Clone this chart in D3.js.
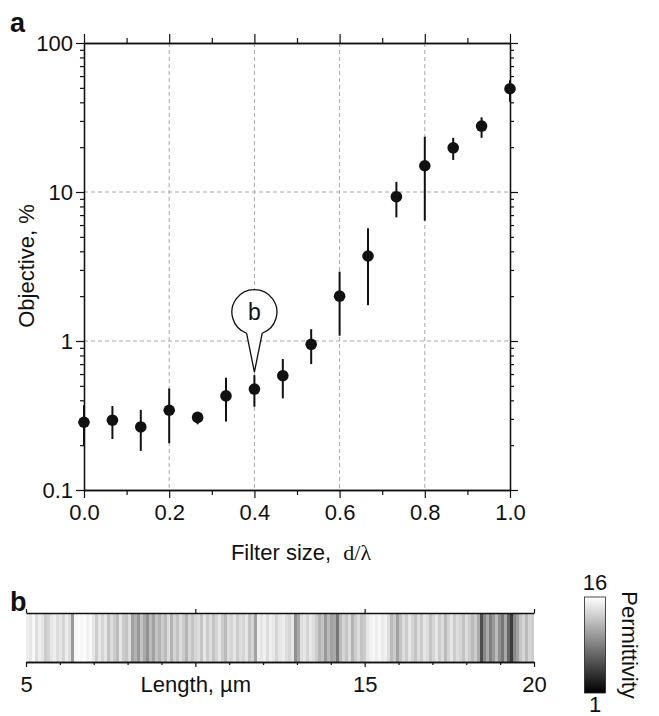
<!DOCTYPE html>
<html>
<head>
<meta charset="utf-8">
<script src="https://cdn.jsdelivr.net/npm/d3@7"></script>
<style>
  body { margin: 0; background: #fff; }
  svg { display: block; }
  text { font-family: "Liberation Sans", Arial, Helvetica, sans-serif; fill: #111; }
</style>
</head>
<body>
<svg id="chart" width="659" height="716"></svg>
<script>
// ---------- data ----------
const filterSize = [0.0, 0.0667, 0.1333, 0.2, 0.2667, 0.3333, 0.4, 0.4667, 0.5333, 0.6, 0.6667, 0.7333, 0.8, 0.8667, 0.9333, 1.0];
const objective  = [0.285, 0.294, 0.265, 0.343, 0.307, 0.428, 0.476, 0.585, 0.95, 2.0, 3.72, 9.3, 15.0, 19.8, 27.7, 49.3];
const errLow     = [0.20, 0.22, 0.183, 0.206, 0.276, 0.288, 0.362, 0.412, 0.70, 1.085, 1.74, 6.76, 6.42, 16.4, 23.1, 40.4];
const errHigh    = [0.37, 0.366, 0.345, 0.48, 0.33, 0.567, 0.59, 0.757, 1.2, 2.92, 5.71, 11.7, 23.5, 23.1, 31.7, 56.3];
const xTicks     = [0.0, 0.2, 0.4, 0.6, 0.8, 1.0];
const xMinor     = [0.1, 0.3, 0.5, 0.7, 0.9];
const yTicks     = [0.1, 1, 10, 100];
const yTickLabels = ["0.1", "1", "10", "100"];
const xGrid      = [0.2, 0.4, 0.6, 0.8];
const yGrid      = [1, 10];
const calloutAt  = 0.4;
const calloutLabel = "b";

// permittivity profile (5 to 20 µm), equal-width layers
const permittivity = [
  15, 14.5, 15.5, 14, 15, 14.5,
  13, 13.5,
  14.5, 15, 14, 14.5, 13.5, 15, 14,
  10,
  15.5, 15.8, 15.5, 15.8, 15.2, 15.5,
  14.5, 13, 14.5,
  13.5, 14.5, 12.5, 14, 13, 12, 14.5, 13, 12.5, 14,
  10.5, 11.5, 10, 12.5, 11, 9.5, 12, 10.5, 12.5, 11.5,
  13, 12, 14, 11.5, 13.5, 12.5, 14, 13, 11.5, 13.5, 12.5,
  13.5, 14, 12.5, 14.5, 13, 14, 12.5, 13.5, 14.5, 13, 12, 14,
  13.5, 14.5, 13, 14, 13.5, 14.5, 12.5, 13.5,
  10.5,
  15, 14.5, 15.2, 14, 15, 14.5, 13.5, 14.5, 15, 14, 13.5, 14.5,
  9.5, 11,
  14, 14.5, 13.5, 14.5, 14, 13,
  11.5, 12.5, 10, 12, 10.5, 11, 8,
  12, 13.5, 12.5, 14, 11.5, 13, 14, 12.5, 13,
  14.5, 15.2, 15.5, 15, 15.5, 14.8, 15.2, 14,
  12, 13, 10.5, 12.5,
  14, 13, 14.5, 13.5, 12.5, 14, 13, 14.5, 14, 12.5, 13.5, 14.5, 13, 14, 12, 13.5, 14.5, 13, 14, 13.5, 12.5, 14, 13,
  12, 13, 11,
  5.5, 9, 11, 8.5, 10, 12, 9.5, 8, 11, 7, 4.5, 9, 10.5,
  12.5, 13.5, 12, 13.5, 13
];
const lengthRange = [5, 20];
const lengthTicks = [5, 10, 15, 20];
const lengthTickLabels = ["5", "Length, µm", "15", "20"];
const lengthMinor = [6, 7, 8, 9, 11, 12, 13, 14, 16, 17, 18, 19];
const permRange = [1, 16];

// ---------- drawing ----------
const FS = 22;
const svg = d3.select("#chart");

// Panel a
const x = d3.scaleLinear().domain([0, 1]).range([84, 510]);
const y = d3.scaleLog().domain([0.1, 100]).range([490, 43]);

const yMinor = [];
[0.1, 1, 10].forEach(d => { for (let k = 2; k <= 9; k++) yMinor.push(d * k); });

// gridlines
svg.append("g").selectAll("line").data(xGrid).join("line")
  .attr("x1", d => x(d)).attr("x2", d => x(d))
  .attr("y1", y(100)).attr("y2", y(0.1))
  .attr("stroke", "#a8a8a8").attr("stroke-width", 1).attr("stroke-dasharray", "4,3");
svg.append("g").selectAll("line").data(yGrid).join("line")
  .attr("x1", x(0)).attr("x2", x(1))
  .attr("y1", d => y(d)).attr("y2", d => y(d))
  .attr("stroke", "#a8a8a8").attr("stroke-width", 1).attr("stroke-dasharray", "4,3");

function styleAxis(g) {
  g.select(".domain").attr("stroke", "#111").attr("stroke-width", 1.3);
  g.selectAll(".tick line").attr("stroke", "#111").attr("stroke-width", 1.2);
  g.selectAll(".tick text").attr("font-size", FS).attr("fill", "#111")
    .attr("font-family", '"Liberation Sans", Arial, sans-serif');
}

// bottom axis
svg.append("g").attr("transform", `translate(0,${y(0.1)})`)
  .call(d3.axisBottom(x).tickValues(xTicks).tickSize(8).tickSizeOuter(0).tickPadding(6).tickFormat(d3.format(".1f")))
  .call(styleAxis);
svg.append("g").attr("transform", `translate(0,${y(0.1)})`)
  .call(d3.axisBottom(x).tickValues(xMinor).tickSize(5).tickSizeOuter(0).tickFormat(""))
  .call(styleAxis);
// top axis
svg.append("g").attr("transform", `translate(0,${y(100)})`)
  .call(d3.axisTop(x).tickValues(xTicks).tickSize(9).tickSizeOuter(0).tickFormat(""))
  .call(styleAxis);
svg.append("g").attr("transform", `translate(0,${y(100)})`)
  .call(d3.axisTop(x).tickValues(xMinor).tickSize(5).tickSizeOuter(0).tickFormat(""))
  .call(styleAxis);
// left axis
svg.append("g").attr("transform", `translate(${x(0)},0)`)
  .call(d3.axisLeft(y).tickValues(yTicks).tickSize(8).tickSizeOuter(0).tickPadding(3)
    .tickFormat((d, i) => yTickLabels[i]))
  .call(styleAxis);
svg.append("g").attr("transform", `translate(${x(0)},0)`)
  .call(d3.axisLeft(y).tickValues(yMinor).tickSize(4).tickSizeOuter(0).tickFormat(""))
  .call(styleAxis);
// right axis
svg.append("g").attr("transform", `translate(${x(1)},0)`)
  .call(d3.axisRight(y).tickValues(yTicks).tickSize(8).tickSizeOuter(0).tickFormat(""))
  .call(styleAxis);
svg.append("g").attr("transform", `translate(${x(1)},0)`)
  .call(d3.axisRight(y).tickValues(yMinor).tickSize(4).tickSizeOuter(0).tickFormat(""))
  .call(styleAxis);

// error bars
const pts = filterSize.map((f, i) => ({ f, v: objective[i], lo: errLow[i], hi: errHigh[i] }));
svg.append("g").selectAll("line").data(pts).join("line")
  .attr("x1", d => x(d.f)).attr("x2", d => x(d.f))
  .attr("y1", d => y(d.lo)).attr("y2", d => y(d.hi))
  .attr("stroke", "#111").attr("stroke-width", 2);
// markers
svg.append("g").selectAll("circle").data(pts).join("circle")
  .attr("cx", d => x(d.f)).attr("cy", d => y(d.v)).attr("r", 5.8)
  .attr("fill", "#111");

// callout
const ci = filterSize.indexOf(calloutAt);
const tipX = x(calloutAt), tipY = y(errHigh[ci]) - 3;
const cx = tipX, cy = tipY - 60, r = 22.5;
const jx = 7.8, jy = Math.sqrt(r * r - jx * jx);
svg.append("path")
  .attr("d", `M${tipX},${tipY} L${cx - jx},${cy + jy} A${r},${r} 0 1 1 ${cx + jx},${cy + jy} Z`)
  .attr("fill", "#fff").attr("stroke", "#111").attr("stroke-width", 1.3);
svg.append("text").attr("x", cx).attr("y", cy + 8).attr("text-anchor", "middle")
  .attr("font-size", 23).text(calloutLabel);

// axis titles
svg.append("text").attr("transform", `translate(34,266) rotate(-90)`)
  .attr("text-anchor", "middle").attr("font-size", FS).text("Objective, %");
const xt = svg.append("text").attr("x", 301).attr("y", 560).attr("text-anchor", "middle").attr("font-size", FS);
xt.append("tspan").text("Filter size,\u00a0\u00a0");
xt.append("tspan").style("font-family", '"Liberation Serif", "DejaVu Serif", "Times New Roman", serif').text("d/λ");

// panel labels
svg.append("text").attr("x", 10).attr("y", 32).attr("font-size", 27).attr("font-weight", "bold").text("a");
svg.append("text").attr("x", 10).attr("y", 611).attr("font-size", 27).attr("font-weight", "bold").text("b");

// Panel b
const lx = d3.scaleLinear().domain(lengthRange).range([26, 534]);
const stripTop = 613, stripBot = 662;
const gray = d3.scaleLinear().domain(permRange).range(["#000", "#fff"]);
const n = permittivity.length;
const layerW = (lengthRange[1] - lengthRange[0]) / n;
svg.append("g").selectAll("rect").data(permittivity).join("rect")
  .attr("x", (d, i) => lx(lengthRange[0] + i * layerW))
  .attr("width", (d, i) => lx(lengthRange[0] + (i + 1) * layerW) - lx(lengthRange[0] + i * layerW) + 0.4)
  .attr("y", stripTop).attr("height", stripBot - stripTop)
  .attr("fill", d => gray(d)).attr("shape-rendering", "crispEdges");

svg.append("g").attr("transform", `translate(0,${stripBot})`)
  .call(d3.axisBottom(lx).tickValues(lengthTicks).tickSize(5).tickSizeOuter(0).tickPadding(9)
    .tickFormat((d, i) => lengthTickLabels[i]))
  .call(styleAxis);
svg.append("g").attr("transform", `translate(0,${stripBot})`)
  .call(d3.axisBottom(lx).tickValues(lengthMinor).tickSize(3).tickSizeOuter(0).tickFormat(""))
  .call(styleAxis);
svg.append("g").attr("transform", `translate(0,${stripTop})`)
  .call(d3.axisTop(lx).tickValues(lengthTicks).tickSize(4).tickSizeOuter(0).tickFormat(""))
  .call(styleAxis);

// colorbar
const defs = svg.append("defs");
const grad = defs.append("linearGradient").attr("id", "permGrad")
  .attr("x1", 0).attr("y1", 1).attr("x2", 0).attr("y2", 0);
grad.append("stop").attr("offset", "0%").attr("stop-color", gray(permRange[0]));
grad.append("stop").attr("offset", "100%").attr("stop-color", gray(permRange[1]));
const cb = d3.scaleLinear().domain(permRange).range([693, 597]);
svg.append("rect").attr("x", 584.5).attr("y", cb(permRange[1])).attr("width", 21)
  .attr("height", cb(permRange[0]) - cb(permRange[1]))
  .attr("fill", "url(#permGrad)").attr("stroke", "#222").attr("stroke-width", 0.8);
svg.append("text").attr("x", 595).attr("y", cb(permRange[1]) - 7).attr("text-anchor", "middle")
  .attr("font-size", FS).text(String(permRange[1]));
svg.append("text").attr("x", 595).attr("y", cb(permRange[0]) + 19).attr("text-anchor", "middle")
  .attr("font-size", FS).text(String(permRange[0]));
svg.append("text").attr("transform", `translate(622,645) rotate(90)`)
  .attr("text-anchor", "middle").attr("font-size", FS).text("Permittivity");
</script>
</body>
</html>
